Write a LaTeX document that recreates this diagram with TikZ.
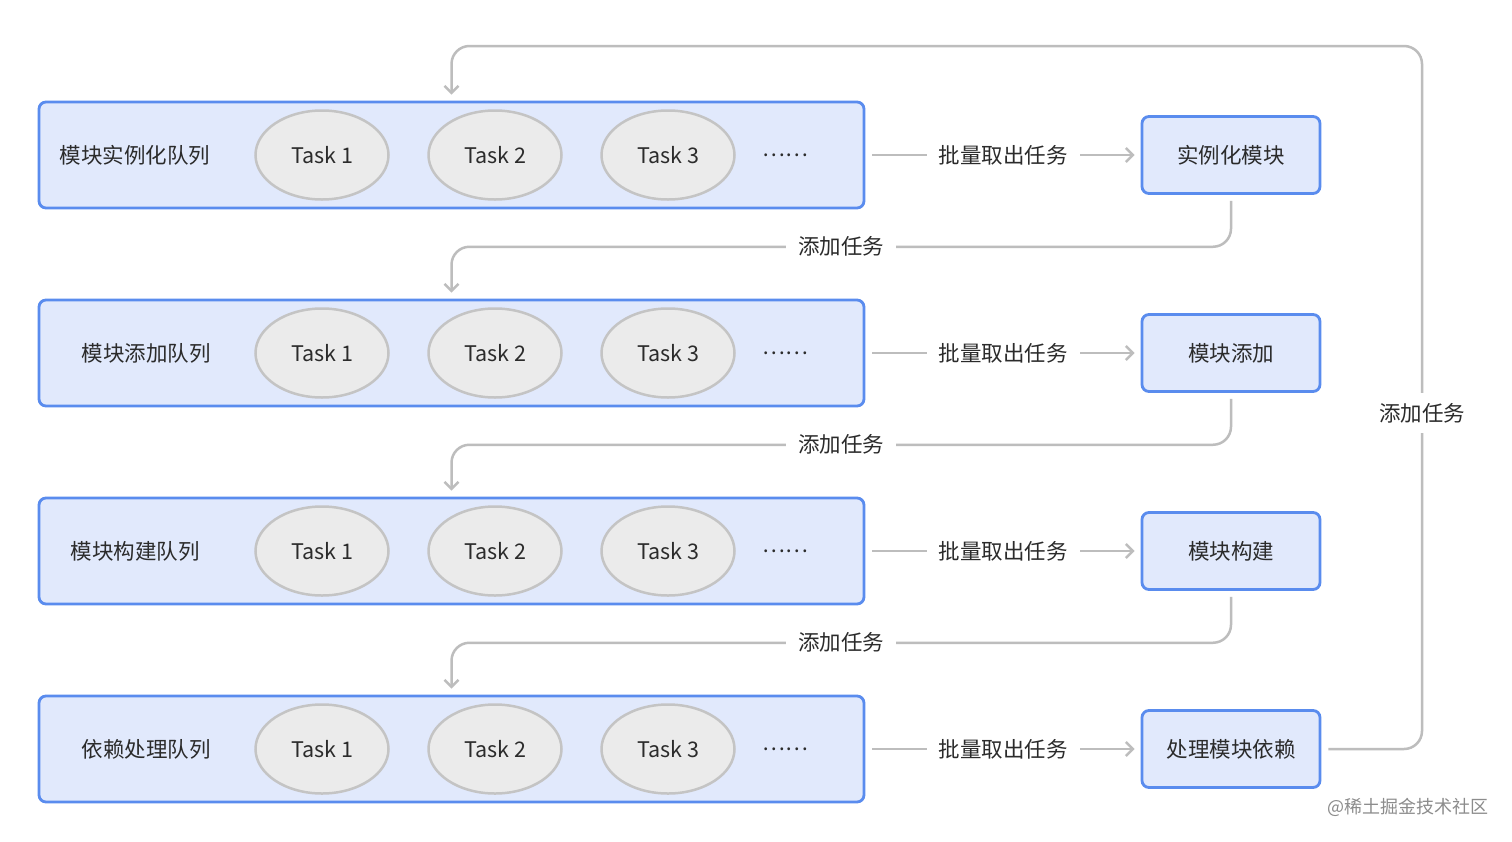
\documentclass[tikz,border=0pt]{standalone}
\usepackage{fontspec}
\setmainfont{Noto Sans CJK SC}
\usetikzlibrary{shapes.geometric,arrows.meta,calc}
\definecolor{boxfill}{HTML}{E1E9FC}
\definecolor{boxline}{HTML}{5A8CEE}
\definecolor{elfill}{HTML}{EBEBEB}
\definecolor{elline}{HTML}{C4C4C4}
\definecolor{connc}{HTML}{BDBDBD}
\definecolor{txt}{HTML}{2B2B2B}
\begin{document}
\begin{tikzpicture}[x=1pt,y=-1pt,
  every node/.style={font=\fontsize{21.5}{26}\selectfont, text=txt},
  queue/.style={draw=boxline, fill=boxfill, line width=2.8pt, rounded corners=7pt,
    minimum width=825pt, minimum height=106pt, inner sep=0pt},
  stage/.style={draw=boxline, fill=boxfill, line width=2.8pt, rounded corners=7pt,
    minimum width=178pt, minimum height=77pt, inner sep=0pt},
  task/.style={ellipse, draw=elline, fill=elfill, line width=2.5pt,
    minimum width=133pt, minimum height=89pt, inner sep=0pt},
  qlabel/.style={inner sep=0pt},
  dots/.style={inner sep=0pt},
  lbl/.style={fill=white, inner xsep=12pt, inner ysep=6pt},
  conn/.style={draw=connc, line width=2.5pt, rounded corners=18pt},
  tip/.style={-{Straight Barb[length=7pt,width=14pt]}},
  credit/.style={font=\fontsize{18}{22}\selectfont, text=black!45, inner sep=0pt}
]
\useasboundingbox[fill=white] (0,0) rectangle (1512,841);

% queues
\foreach \i/\y/\lx/\name in {1/155/135/模块实例化队列, 2/353/146/模块添加队列, 3/551/135/模块构建队列, 4/749/146/依赖处理队列}{
  \node[queue] (q\i) at (451.5,\y) {};
  \node[qlabel] (ql\i) at (\lx,\y) {\name};
  \node[task] (t\i a) at (322,\y) {Task 1};
  \node[task] (t\i b) at (495,\y) {Task 2};
  \node[task] (t\i c) at (668,\y) {Task 3};
  \node[dots] (d\i) at (785,\y) {……};
}

% stages
\node[stage] (r1) at (1231,155) {实例化模块};
\node[stage] (r2) at (1231,353) {模块添加};
\node[stage] (r3) at (1231,551) {模块构建};
\node[stage] (r4) at (1231,749) {处理模块依赖};

% batch-take arrows
\foreach \i in {1,2,3,4}{
  \draw[conn, tip, shorten <=7pt, shorten >=6pt] (q\i.east) -- (r\i.west);
  \node[lbl] (b\i) at ($(q\i.east)!0.5!(r\i.west)$) {批量取出任务};
}

% add-task returns
\foreach \i/\j in {1/2,2/3,3/4}{
  \coordinate (m\i) at ($(r\i.south)!0.5!(q\j.north)$);
  \draw[conn, tip, shorten <=6pt, shorten >=6pt] (r\i.south) |- (m\i) -| (q\j.north);
  \node[lbl] (a\i) at (841, 0 |- m\i) {添加任务};
}

% big loop
\coordinate (tr) at (1422,46);
\draw[conn, tip, shorten <=7pt, shorten >=6pt] (r4.east) -| (tr) -| (q1.north);
\node[lbl, inner xsep=4pt, inner ysep=10pt] (a4) at (1422,413) {添加任务};

\node[credit] (cr) at (1408,807) {@稀土掘金技术社区};
\end{tikzpicture}
\end{document}
